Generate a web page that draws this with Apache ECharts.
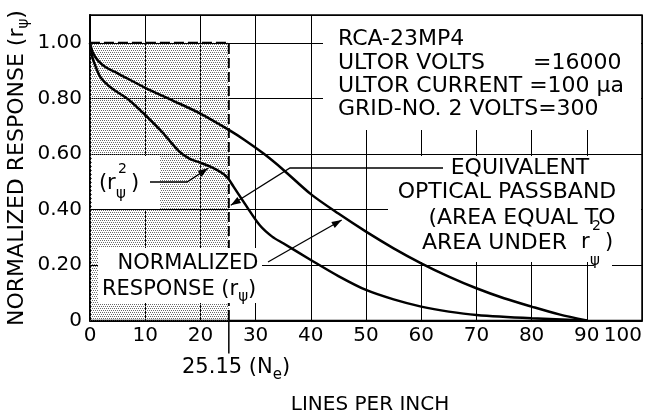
<!DOCTYPE html>
<html><head><meta charset="utf-8">
<script src="https://cdn.jsdelivr.net/npm/echarts@6/dist/echarts.min.js"></script>
<style>html,body{margin:0;padding:0;background:#fff}#c{width:650px;height:415px}</style>
</head><body><div id="c"></div>
<script>
// ---- data ----
const xTickLabels = ['0','10','20','30','40','50','60','70','80','90','100'];
const yTickLabels = ['0','0.20','0.40','0.60','0.80','1.00'];
const responseLines  = [0,0.5,1.5,3,5,10,15,20,25,28,31.5,35,40,45,50,55,60,65,70,75,80,85,90];
const responseValues = [1.0,0.965,0.935,0.91,0.89,0.838,0.792,0.745,0.688,0.65,0.6,0.543,0.455,0.385,0.32,0.26,0.206,0.158,0.116,0.08,0.05,0.022,0];
const squaredLines   = [0,0.4,1,2,4,7,10,13,16,18,20,22,24,25,26,28.4,30.8,33,35,40,45,50,55,60,65,70,80,90];
const squaredValues  = [1.0,0.95,0.915,0.873,0.835,0.795,0.74,0.68,0.612,0.583,0.568,0.552,0.53,0.512,0.482,0.41,0.342,0.302,0.278,0.218,0.16,0.11,0.076,0.05,0.032,0.02,0.008,0];
const passbandEdge = 25.15;   // Ne
const passbandLevel = 1.0;

const FF = '"DejaVu Sans", sans-serif';
const chart = echarts.init(document.getElementById('c'), null, {renderer:'canvas'});

// stipple pattern
const pc = document.createElement('canvas'); pc.width = 4; pc.height = 4;
const pg = pc.getContext('2d'); pg.fillStyle = '#6a6a6a';
[[0,0],[2,0],[1,2],[3,2]].forEach(p => pg.fillRect(p[0], p[1], 1, 1));

const zip = (a,b) => a.map((v,i) => [v, b[i]]);

chart.setOption({
  animation: false,
  backgroundColor: '#fff',
  grid: {left: 90, right: 8, top: 15, bottom: 94.5, show: true, borderColor: '#000', borderWidth: 1.5, backgroundColor: 'transparent'},
  xAxis: {
    type: 'value', min: 0, max: 100, interval: 10,
    axisLine: {show: true, onZero: false, lineStyle: {color: '#000', width: 2}},
    axisTick: {show: false},
    splitLine: {show: true, lineStyle: {color: '#000', width: 1}},
    axisLabel: {margin: 5, color: '#000', fontSize: 20, fontFamily: FF, alignMaxLabel: 'right',
      formatter: v => xTickLabels[Math.round(v/10)] || ''}
  },
  yAxis: {
    type: 'value', min: 0, max: 1.1, interval: 0.2,
    axisLine: {show: true, lineStyle: {color: '#000', width: 2}},
    axisTick: {show: false},
    splitLine: {show: true, lineStyle: {color: '#000', width: 1}},
    axisLabel: {margin: 8, color: '#000', fontSize: 20, fontFamily: FF, showMaxLabel: false,
      formatter: v => v > 1.05 ? '' : (yTickLabels[Math.round(v/0.2)] || '')}
  },
  series: [
    {type: 'line', z: 0.5, symbol: 'none', silent: true,
     data: [[0, passbandLevel], [passbandEdge, passbandLevel], [passbandEdge, 0]],
     lineStyle: {color: '#000', width: 2, type: [10, 4]},
     areaStyle: {color: {image: pc, repeat: 'repeat'}, opacity: 1}},
    {type: 'line', z: 2, symbol: 'none', smooth: 0.3, data: zip(responseLines, responseValues),
     lineStyle: {color: '#000', width: 2.5}},
    {type: 'line', z: 2, symbol: 'none', smooth: 0.3, data: zip(squaredLines, squaredValues),
     lineStyle: {color: '#000', width: 2.5}}
  ]
});

const px = (x, y) => chart.convertToPixel({gridIndex: 0}, [x, y]);

const G = [];
function box(x1, y1, x2, y2) { G.push({type: 'rect', z: 1, shape: {x: x1, y: y1, width: x2-x1, height: y2-y1}, style: {fill: '#fff'}}); }
function txt(t, x, y, fs, align) { G.push({type: 'text', z: 10, x: x, y: y, style: {text: t, fontSize: fs, fontFamily: FF, fill: '#000', align: align || 'left', verticalAlign: 'middle'}}); }
function rich(t, x, y, align, rot, fs) {
  fs = fs || 21;
  G.push({type: 'text', z: 10, x: x, y: y, rotation: rot || 0, style: {text: t, fill: '#000', align: align || 'left', verticalAlign: 'middle',
    rich: {a: {fontSize: fs, fontFamily: FF, lineHeight: 30, verticalAlign: 'middle'},
           s: {fontSize: 15, fontFamily: FF, lineHeight: 16, verticalAlign: 'bottom'}}}});
}
// r with stacked superscript 2 and subscript psi, anchored at the x of "r"
function rStack(xr, y, up, down) {
  txt('r', xr, y, 21);
  txt('2', xr + 11, y - up, 14);
  txt('ψ', xr + 9, y + down, 15);
  txt(')', xr + 24, y, 21);
}
function leader(points) {
  G.push({type: 'polyline', z: 12, shape: {points: points}, style: {stroke: '#000', lineWidth: 1.3, fill: null}});
  const t = points[points.length-1], p = points[points.length-2];
  let dx = t[0]-p[0], dy = t[1]-p[1]; const L = Math.hypot(dx, dy); dx /= L; dy /= L;
  const bx = t[0]-dx*10, by = t[1]-dy*10, nx = -dy, ny = dx;
  G.push({type: 'polygon', z: 12, shape: {points: [t, [bx+nx*3.5, by+ny*3.5], [bx-nx*3.5, by-ny*3.5]]}, style: {fill: '#000'}});
}

// white backgrounds hiding grid / stipple behind labels
box(323, 16, 641, 130);
box(388, 156, 641, 262);
box(594, 262, 612, 272);
box(92, 156, 160, 209);
box(98, 248, 262, 278);
box(98, 278, 272, 303);

// upper-right caption
txt('RCA-23MP4', 338, 39, 22);
txt('ULTOR VOLTS', 338, 63, 22);
txt('=16000', 533, 63, 22);
txt('ULTOR CURRENT =100 μa', 338, 86, 22);
txt('GRID-NO. 2 VOLTS=300', 338, 109, 22);

// equivalent passband label
txt('EQUIVALENT', 520, 168, 22, 'center');
txt('OPTICAL PASSBAND', 507, 192, 22, 'center');
txt('(AREA EQUAL TO', 522, 218, 22, 'center');
txt('AREA UNDER', 567, 243, 22, 'right');
rStack(581, 243, 17, 18);

// r^2 label
txt('(', 99, 184, 21);
rStack(107, 184, 15, 10);

// normalized response label
txt('NORMALIZED', 188, 264, 21, 'center');
rich('{a|RESPONSE (r}{s|ψ}{a|)}', 102, 290, 'left');

// Ne marker
const ne0 = px(passbandEdge, 0);
G.push({type: 'line', z: 12, shape: {x1: ne0[0], y1: ne0[1], x2: ne0[0], y2: ne0[1] + 33}, style: {stroke: '#000', lineWidth: 1.5}});
rich('{a|25.15 (N}{s|e}{a|)}', 182, 368, 'left');

// axis titles
txt('LINES PER INCH', 370, 405, 20, 'center');
rich('{a|NORMALIZED RESPONSE (r}{s|ψ}{a|)}', 17, 168, 'center', Math.PI/2, 22);

// leaders with arrows
leader([[150, 182], [187, 182], px(21.4, 0.548)]);
leader([[443, 168], [290, 168], px(25.5, 0.415)]);
leader([[268, 262], px(45.6, 0.362)]);

chart.setOption({graphic: G});
</script></body></html>
